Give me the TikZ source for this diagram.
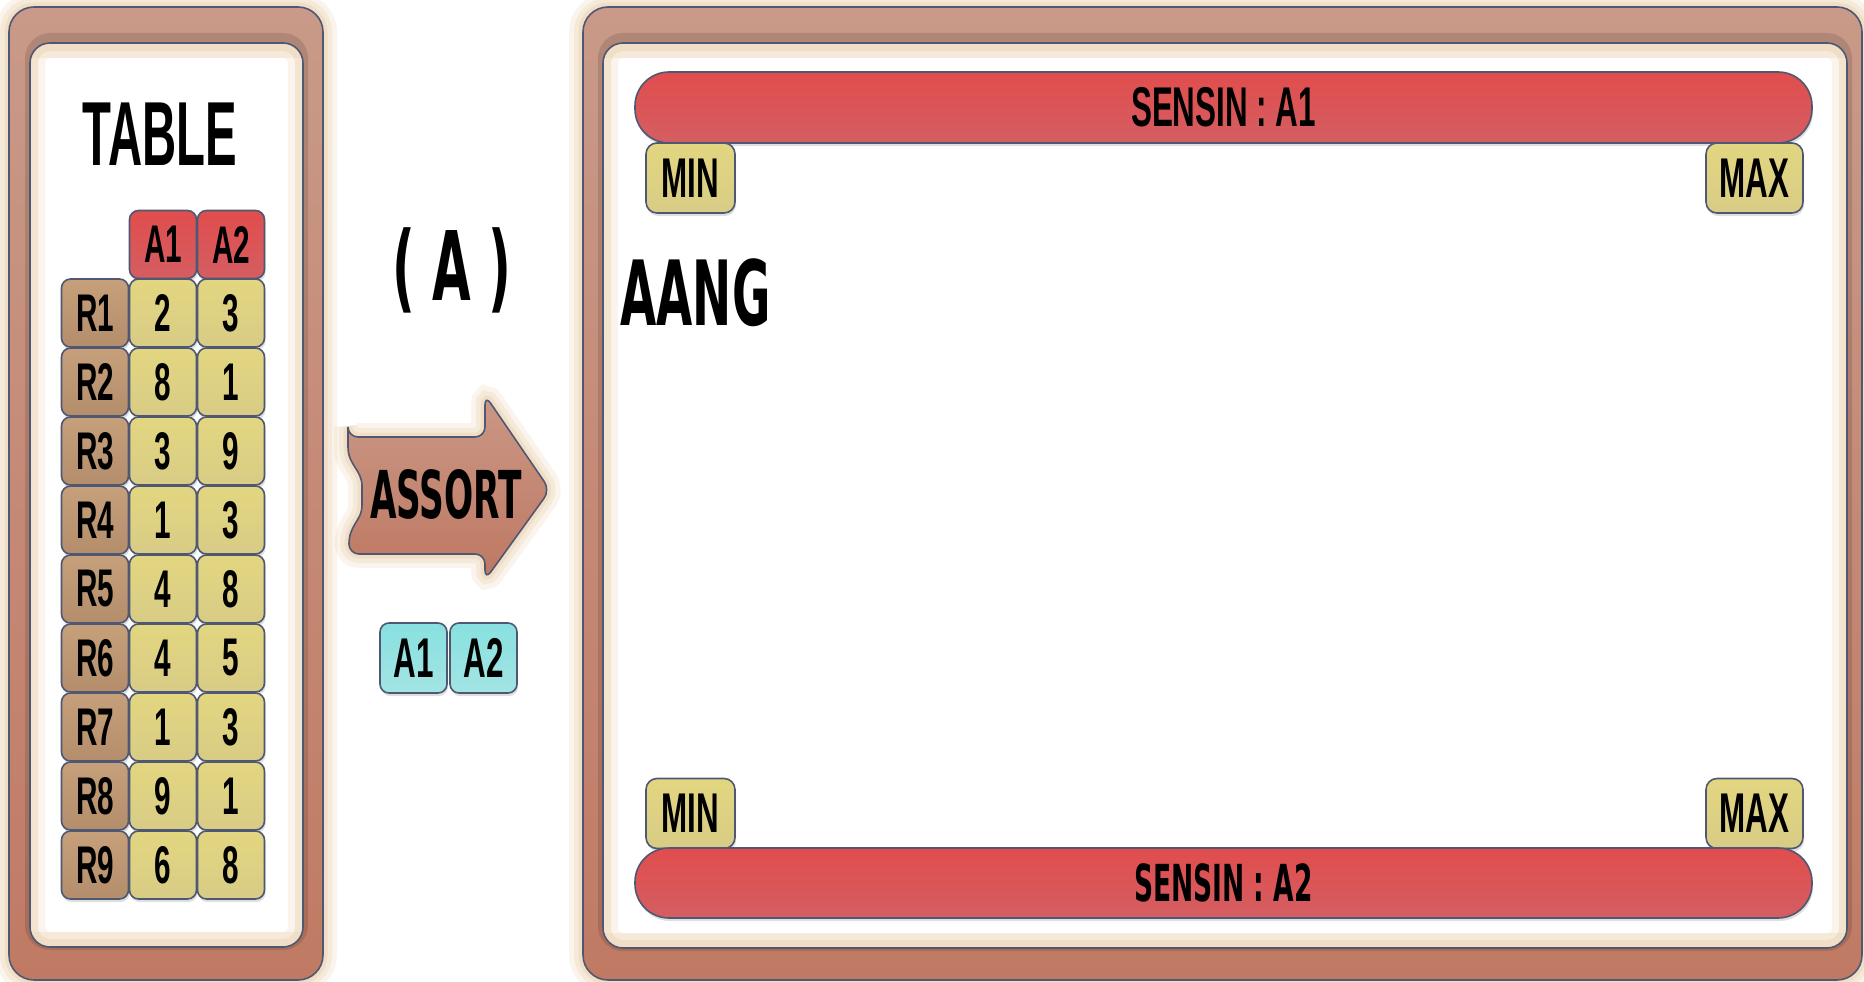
\documentclass[tikz,border=0pt]{standalone}
\usepackage{fontspec}
\usetikzlibrary{shadows}
\newfontfamily\fl{Liberation Sans}[FakeStretch=0.56]
\newfontfamily\flt{Liberation Sans}[FakeStretch=0.52]
\newfontfamily\fd{DejaVu Sans}[FakeStretch=0.52]
\definecolor{bord}{HTML}{4E5872}
\definecolor{peach}{HTML}{EDD5B6}
\definecolor{frtop}{HTML}{C99A89}
\definecolor{frbot}{HTML}{C07A64}
\definecolor{redA}{HTML}{E14D4D}
\definecolor{redM}{HTML}{E26262}
\definecolor{redB}{HTML}{D45E62}
\definecolor{yelA}{HTML}{E3D680}
\definecolor{yelM}{HTML}{E1D992}
\definecolor{yelB}{HTML}{D8CC86}
\definecolor{brA}{HTML}{C6A07A}
\definecolor{brB}{HTML}{B48E6C}
\definecolor{cyA}{HTML}{88E0E0}
\definecolor{cyB}{HTML}{A4E4E4}
\definecolor{arA}{HTML}{CA9886}
\definecolor{arB}{HTML}{BE7862}
\begin{document}
\begin{tikzpicture}[x=1pt,y=-1pt,
  ln/.style={draw=bord,line width=1.6pt},
  shd/.style={drop shadow={opacity=.25,shadow xshift=1pt,shadow yshift=-3pt}},
  cellbox/.style={ln,shd,rounded corners=9pt,minimum width=67pt,minimum height=68pt,inner sep=0pt,
     font=\fl\bfseries\fontsize{53pt}{53pt}\selectfont},
  ycell/.style={cellbox,top color=yelA,middle color=yelM,bottom color=yelB},
  bcell/.style={cellbox,top color=brA,bottom color=brB},
  rcell/.style={cellbox,top color=redA,middle color=redM,bottom color=redB},
  ccell/.style={cellbox,minimum height=70pt,font=\fl\bfseries\fontsize{56pt}{56pt}\selectfont,top color=cyA,bottom color=cyB},
  limbox/.style={ln,shd,rounded corners=11pt,minimum height=70pt,inner sep=0pt,
     font=\fl\bfseries\fontsize{56pt}{56pt}\selectfont,top color=yelA,middle color=yelM,bottom color=yelB},
  bar/.style={ln,shd,rounded corners=34pt,minimum width=1177pt,minimum height=71pt,inner sep=0pt,
     top color=redA,middle color=redM,bottom color=redB},
  frame/.style={ln,rounded corners=25pt,top color=frtop,bottom color=frbot},
  big/.style={font=\fd\bfseries\fontsize{90pt}{90pt}\selectfont}
]
\useasboundingbox (0,0) rectangle (1864,982);
\fill[white] (0,0) rectangle (1864,982);

% ---------- glows ----------
\foreach \w/\o in {28/.25,18/.35,9/.5}{
  \draw[peach,line width=\w pt,opacity=\o,rounded corners=25pt] (9,7) rectangle (323,980);
  \draw[peach,line width=\w pt,opacity=\o,rounded corners=25pt] (583,7) rectangle (1862,980);
}

% ---------- left frame ----------
\draw[frame] (9,7) rectangle (323,980);
\draw[black,opacity=.12,line width=10pt,rounded corners=20pt] (30,38) rectangle (303,945);
\begin{scope}
  \clip[rounded corners=20pt] (30,43) rectangle (303,947);
  \fill[white] (30,43) rectangle (303,947);
  \draw[peach,line width=30pt,opacity=.25,rounded corners=20pt] (30,43) rectangle (303,947);
  \draw[peach,line width=16pt,opacity=.5,rounded corners=20pt] (30,43) rectangle (303,947);
  \fill[peach,opacity=.35] (30,43) rectangle (303,58);
  \fill[peach,opacity=.35] (30,932) rectangle (303,947);
\end{scope}
\draw[ln,rounded corners=20pt] (30,43) rectangle (303,947);

% ---------- right frame ----------
\draw[frame] (583,7) rectangle (1862,980);
\draw[black,opacity=.12,line width=10pt,rounded corners=20pt] (603,38) rectangle (1847,946);
\begin{scope}
  \clip[rounded corners=20pt] (603,43) rectangle (1847,948);
  \fill[white] (603,43) rectangle (1847,948);
  \draw[peach,line width=30pt,opacity=.25,rounded corners=20pt] (603,43) rectangle (1847,948);
  \draw[peach,line width=16pt,opacity=.5,rounded corners=20pt] (603,43) rectangle (1847,948);
  \fill[peach,opacity=.35] (603,43) rectangle (1847,58);
  \fill[peach,opacity=.35] (603,933) rectangle (1847,948);
\end{scope}
\draw[ln,rounded corners=20pt] (603,43) rectangle (1847,948);

% ---------- TABLE title ----------
\node[anchor=base,font=\flt\bfseries\fontsize{91pt}{91pt}\selectfont] (ttl) at (160,165) {TABLE};

% ---------- table ----------
\node[rcell] (hA1) at (163,244.5) {A1};
\node[rcell] (hA2) at (231,244.5) {A2};
\foreach \i/\a/\b in {1/2/3,2/8/1,3/3/9,4/1/3,5/4/8,6/4/5,7/1/3,8/9/1,9/6/8}{
  \pgfmathsetmacro\yy{313+69*(\i-1)}
  \node[bcell] (r\i) at (95,\yy) {R\i};
  \node[ycell] (a\i) at (163,\yy) {\a};
  \node[ycell] (b\i) at (231,\yy) {\b};
}

% ---------- (A) ----------
\node[anchor=base,font=\fd\bfseries\fontsize{96pt}{96pt}\selectfont] (lab) at (452,300) {( A )};

% ---------- ASSORT arrow ----------
\foreach \w/\o in {28/.25,18/.35,9/.5}{
  \draw[peach,line width=\w pt,opacity=\o,rounded corners=10pt]
    (348,437) -- (485,437) -- (485,395) -- (550,490) -- (485,580) -- (485,554) -- (349,554)
    .. controls (349,525) and (362,520) .. (362,496) .. controls (362,470) and (348,465) .. (348,437) -- cycle;
}
\draw[ln,top color=arA,bottom color=arB,rounded corners=10pt]
    (348,437) -- (485,437) -- (485,395) -- (550,490) -- (485,580) -- (485,554) -- (349,554)
    .. controls (349,525) and (362,520) .. (362,496) .. controls (362,470) and (348,465) .. (348,437) -- cycle;
\node[anchor=base,font=\fd\bfseries\fontsize{66pt}{66pt}\selectfont] (asrt) at (446,518) {ASSORT};

\node[ccell] (cA1) at (413.5,658) {A1};
\node[ccell] (cA2) at (483.5,658) {A2};

% ---------- right panel ----------
\node[bar,font=\fl\bfseries\fontsize{56pt}{56pt}\selectfont] (barA) at (1223.5,107.5) {SENSIN : A1};
\node[limbox,minimum width=89pt] (min1) at (690.5,178) {MIN};
\node[limbox,minimum width=97pt] (max1) at (1754.5,178) {MAX};

\node[anchor=base west,big] (aang) at (617,325) {AANG};

\node[limbox,minimum width=89pt] (min2) at (690.5,813.5) {MIN};
\node[limbox,minimum width=97pt] (max2) at (1754.5,813.5) {MAX};
\node[bar,minimum height=70pt,font=\fd\bfseries\fontsize{51pt}{51pt}\selectfont] (barB) at (1223.5,883) {SENSIN : A2};
\end{tikzpicture}
\end{document}
